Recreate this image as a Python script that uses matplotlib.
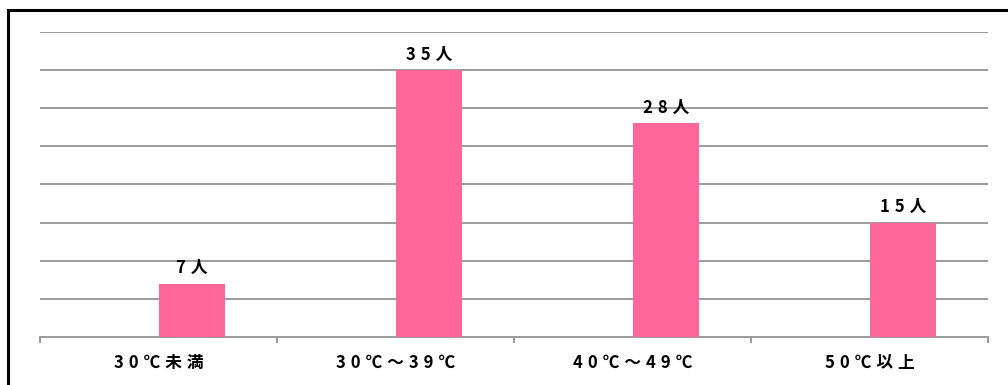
import matplotlib.pyplot as plt
from matplotlib.patches import Rectangle

plt.rcParams['font.family'] = ['Noto Sans CJK JP', 'DejaVu Sans']

categories = ['30℃未満', '30℃～39℃', '40℃～49℃', '50℃以上']
counts = [7, 35, 28, 15]
value_labels = ['7人', '35人', '28人', '15人']

# 元の図は文字が横に広いので字間を少しあける
gap = '\u2009\u200a'
def spaced(s):
    return gap.join(s)

fig = plt.figure(figsize=(10.08, 3.85), dpi=100)
ax = fig.add_axes([40 / 1008, 1 - 337 / 385, 948 / 1008, 305 / 385])

# 外枠（左と上だけ見える）
fig.patches.append(Rectangle((8 / 1008, -0.1), 1.2, 1 - 10 / 385 + 0.1,
                             transform=fig.transFigure, fill=False,
                             edgecolor='black', linewidth=2.2))

w = 0.28
x = [i + w / 2 for i in range(len(categories))]
ax.bar(x, counts, width=w, color='#FF6699', zorder=3)
for xi, c, lab in zip(x, counts, value_labels):
    ax.text(xi, c + 0.85, spaced(lab), ha='center', va='bottom', fontsize=12,
            fontweight='bold', color='black')

ax.set_xlim(-0.5, 3.5)
ax.set_ylim(0, 40)
ax.set_yticks(range(0, 41, 5))
ax.set_yticklabels([])
ax.tick_params(axis='y', length=0)
ax.grid(axis='y', color='#9C9C9C', linewidth=1.4, zorder=0)

ax.set_xticks([-0.5, 0.5, 1.5, 2.5, 3.5])
ax.set_xticklabels([])
ax.set_xticks(range(len(categories)), minor=True)
ax.set_xticklabels([spaced(c) for c in categories], minor=True,
                   fontsize=12, fontweight='bold', color='black')
ax.tick_params(axis='x', which='major', length=4, color='#909090', width=1.3)
ax.tick_params(axis='x', which='minor', length=0, pad=12)

for s in ['top', 'right', 'left']:
    ax.spines[s].set_visible(False)
ax.spines['bottom'].set_color('#9C9C9C')
ax.spines['bottom'].set_linewidth(1.4)

fig.savefig('out.png', dpi=100)
